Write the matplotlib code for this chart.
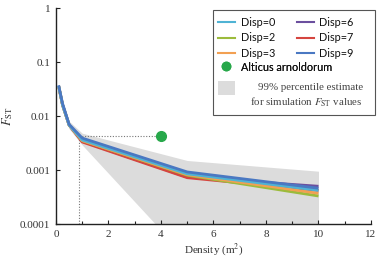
import matplotlib
matplotlib.use("Agg")
import matplotlib.pyplot as plt
from matplotlib.lines import Line2D
from matplotlib.patches import Patch, Rectangle
from matplotlib.ticker import NullLocator, MultipleLocator

plt.rcParams['mathtext.fontset'] = 'stix'

density = [0.1, 0.25, 0.5, 1, 5, 10]
disp_labels = ["Disp=0", "Disp=2", "Disp=3", "Disp=6", "Disp=7", "Disp=9"]
disp_colors = ["#4fb3d4", "#9cbb3c", "#f2a052", "#6b4f9e", "#d5453f", "#4a78c2"]
fst = {
    "Disp=0": [0.036, 0.016, 0.0068, 0.0036, 0.00085, 0.00042],
    "Disp=2": [0.036, 0.016, 0.0068, 0.0035, 0.00080, 0.00033],
    "Disp=3": [0.036, 0.016, 0.0068, 0.0035, 0.00082, 0.00037],
    "Disp=6": [0.036, 0.016, 0.0068, 0.0034, 0.00074, 0.00050],
    "Disp=7": [0.036, 0.016, 0.0068, 0.0033, 0.00072, 0.00042],
    "Disp=9": [0.037, 0.017, 0.0070, 0.0039, 0.00092, 0.00046],
}
band_x = [0.1, 0.25, 0.5, 1, 5, 10]
band_upper = [0.040, 0.019, 0.0080, 0.0048, 0.0015, 0.00095]
band_lower = [0.032, 0.014, 0.0058, 0.0029, 0.000023, 0.00001]
obs_density = [4]
obs_fst = [0.0043]
obs_label = "Alticus arnoldorum"

W, H = 379, 257
fig = plt.figure(figsize=(W/100, H/100), dpi=100)
ax = fig.add_axes([56/W, 1-224/H, (371-56)/W, (224-8)/H])

ax.fill_between(band_x, band_lower, band_upper, color="#dcdcdc", lw=0, zorder=1)
order = ["Disp=6", "Disp=7", "Disp=2", "Disp=3", "Disp=0", "Disp=9"]
for lab in order:
    c = disp_colors[disp_labels.index(lab)]
    ax.plot(density, fst[lab], color=c, lw=2.0, zorder=3, solid_capstyle='butt')

# reference dotted lines
ax.plot([0.88, obs_density[0]], [obs_fst[0], obs_fst[0]], ls=(0, (1, 1.5)), color="#777777", lw=0.8, zorder=2)
ax.plot([0.88, 0.88], [1e-4, obs_fst[0]], ls=(0, (1, 1.5)), color="#777777", lw=0.8, zorder=2)
ax.plot(obs_density, obs_fst, 'o', color="#27a84a", ms=7, zorder=4)

ax.set_yscale('log')
ax.set_xlim(0, 12)
ax.set_ylim(1e-4, 1)
ax.xaxis.set_minor_locator(MultipleLocator(1))
ax.set_yticks([1e-4, 1e-3, 1e-2, 1e-1, 1])
ax.set_yticklabels(["0.0001", "0.001", "0.01", "0.1", "1"])
ax.yaxis.set_minor_locator(NullLocator())
ax.set_xticks([0, 2, 4, 6, 8, 10, 12])
ax.set_xticklabels(["0", "2", "4", "6", "8", "10", "12"])
for s in ["top", "right"]:
    ax.spines[s].set_visible(False)
for s in ["left", "bottom"]:
    ax.spines[s].set_linewidth(1.0)
    ax.spines[s].set_color("#222222")
ax.tick_params(which='both', direction='in', length=3, width=0.8, colors="#222222", pad=4)
ax.tick_params(which='minor', length=2.5)
for lbl in ax.get_xticklabels() + ax.get_yticklabels():
    lbl.set_fontfamily("Liberation Serif")
    lbl.set_fontsize(8)
    lbl.set_color("#333333")

ax.set_xlabel("Density (m$^2$)", fontfamily="Liberation Serif", fontsize=8, color="#333333", labelpad=2)
ax.set_ylabel("$F_{\\mathrm{ST}}$", fontsize=9, color="#333333", labelpad=4)

# legend
line_handles = [Line2D([], [], color=c, lw=1.5) for c in disp_colors]
leg1 = ax.legend(line_handles, disp_labels, ncol=2, frameon=False,
                 loc='upper left', bbox_to_anchor=(214/W, 1-13/H), bbox_transform=fig.transFigure,
                 prop={'family': 'Lato', 'size': 7.8}, handlelength=1.6, handletextpad=0.5,
                 columnspacing=2.0, labelspacing=0.42, borderaxespad=0, borderpad=0.35)
for t in leg1.get_texts():
    t.set_color("#111111")
ax.add_artist(leg1)
h2 = [Line2D([], [], marker='o', color="#27a84a", ls='none', ms=6),
      Patch(facecolor="#dcdcdc", edgecolor='none')]
leg2 = ax.legend(h2, [obs_label, ""], frameon=False,
                 loc='upper left', bbox_to_anchor=(214/W, 1-57/H), bbox_transform=fig.transFigure,
                 prop={'family': 'Lato', 'size': 7.8}, handlelength=1.6, handletextpad=0.5,
                 labelspacing=0.55, borderaxespad=0, borderpad=0.35, handleheight=1.6)
for t in leg2.get_texts():
    t.set_color("#111111")
ax.add_artist(leg2)
fig.text(258/W, 1-87/H, "99% percentile estimate", family="Liberation Serif", fontsize=7.8,
         color="#444444", va='center', ha='left')
fig.text(250/W, 1-102/H, "for simulation $F_{\\mathrm{ST}}$ values", family="Liberation Serif", fontsize=7.8,
         color="#444444", va='center', ha='left')
fig.add_artist(Rectangle((213/W, 1-115/H), (375-213)/W, (115-10)/H, transform=fig.transFigure,
                         fill=False, edgecolor="#555555", lw=0.8))

fig.savefig("out.png", dpi=100)
